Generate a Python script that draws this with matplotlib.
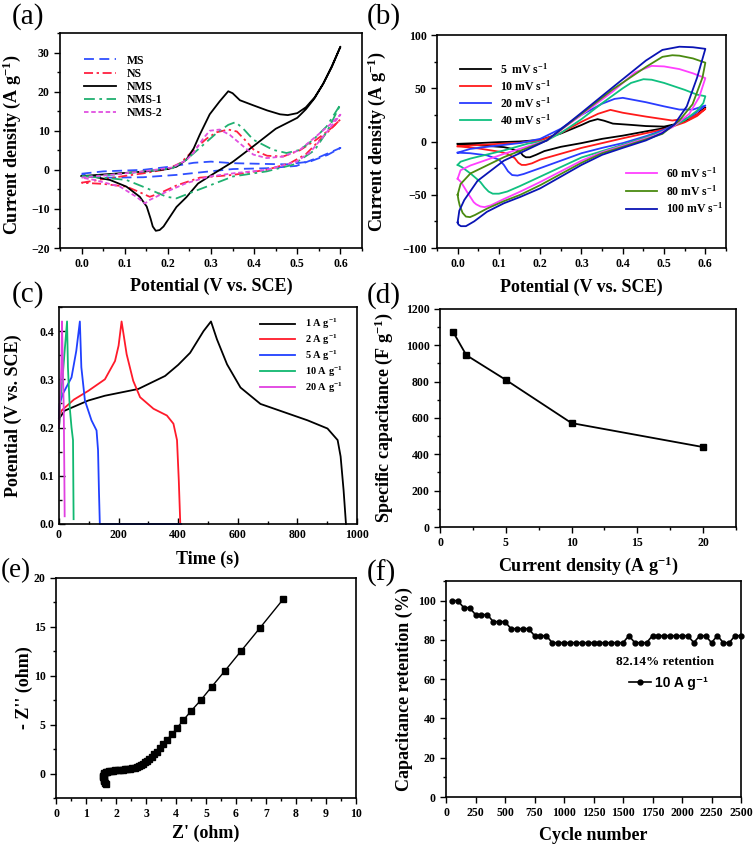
import matplotlib
matplotlib.use("Agg")
import matplotlib.pyplot as plt
from matplotlib.ticker import MultipleLocator
import numpy as np

plt.rcParams['font.family'] = ['Liberation Serif', 'DejaVu Serif']
plt.rcParams['font.weight'] = 'bold'
plt.rcParams['axes.labelweight'] = 'bold'
plt.rcParams['mathtext.fontset'] = 'custom'
plt.rcParams['mathtext.rm'] = 'Liberation Serif:bold'
plt.rcParams['mathtext.bf'] = 'Liberation Serif:bold'
plt.rcParams['mathtext.it'] = 'Liberation Serif:bold:italic'
plt.rcParams['mathtext.default'] = 'rm'

# ---------------- (a) CV of samples at one scan rate ----------------
a_labels = ["MS", "NS", "NMS", "NMS-1", "NMS-2"]
ms_fx = [0, 0.05, 0.143, 0.212, 0.26, 0.3, 0.35, 0.429, 0.475, 0.529, 0.57, 0.6]
ms_fy = [-1.0, -0.4, 0.0, 0.9, 1.8, 2.1, 1.7, 1.5, 1.4, 2.1, 3.8, 5.6]
ms_rx = [0.6, 0.552, 0.498, 0.429, 0.351, 0.297, 0.22, 0.143, 0.066, 0]
ms_ry = [5.6, 3.3, 1.0, 0.4, 0.2, -0.4, -1.3, -1.9, -2.0, -1.3]

ns_fx = [0, 0.066, 0.143, 0.2, 0.23, 0.259, 0.29, 0.313, 0.34, 0.36, 0.38, 0.4, 0.43, 0.467, 0.506, 0.544, 0.575, 0.6]
ns_fy = [-3.3, -2.1, -0.9, 0.2, 1.8, 5.0, 8.0, 9.6, 10.3, 9.8, 7.5, 5.0, 3.6, 3.4, 5.0, 7.7, 10.3, 12.9]
ns_rx = [0.6, 0.56, 0.52, 0.483, 0.429, 0.351, 0.274, 0.22, 0.181, 0.158, 0.13, 0.104, 0.05, 0]
ns_ry = [12.9, 8.5, 4.0, 1.7, 0.0, -1.3, -2.0, -4.0, -6.0, -6.9, -5.5, -4.3, -3.6, -3.3]

nms_fx = [0, 0.05, 0.1, 0.15, 0.2, 0.22, 0.243, 0.26, 0.274, 0.297, 0.32, 0.34, 0.35, 0.367, 0.398, 0.43, 0.46, 0.478, 0.5, 0.52, 0.54, 0.56, 0.58, 0.6]
nms_fy = [-1.6, -1.2, -0.8, -0.4, 0.2, 0.8, 2.6, 5.5, 9.0, 14.2, 17.5, 20.1, 19.6, 17.8, 16.5, 15.2, 14.2, 14.0, 14.5, 16.0, 18.5, 22.0, 26.5, 31.5]
nms_rx = [0.6, 0.58, 0.56, 0.54, 0.52, 0.5, 0.45, 0.4, 0.35, 0.3, 0.27, 0.243, 0.22, 0.205, 0.19, 0.181, 0.172, 0.165, 0.16, 0.151, 0.135, 0.104, 0.066, 0.03, 0]
nms_ry = [31.5, 26.3, 22.0, 18.3, 15.5, 13.3, 10.5, 6.2, 2.0, -1.4, -3.5, -7.0, -9.5, -12.0, -14.5, -15.4, -15.6, -14.5, -12.5, -9.4, -6.9, -4.3, -2.6, -1.8, -1.6]

nms1_fx = [0, 0.066, 0.143, 0.21, 0.243, 0.274, 0.313, 0.34, 0.357, 0.375, 0.398, 0.444, 0.475, 0.506, 0.537, 0.568, 0.6]
nms1_fy = [-1.7, -1.3, -0.4, 0.4, 2.6, 5.6, 9.4, 11.5, 12.2, 10.5, 7.7, 5.1, 4.3, 5.1, 7.7, 11.1, 16.7]
nms1_rx = [0.6, 0.57, 0.54, 0.49, 0.429, 0.351, 0.29, 0.259, 0.22, 0.197, 0.151, 0.104, 0.05, 0]
nms1_ry = [16.7, 10.0, 5.0, 1.3, -0.4, -1.7, -4.3, -5.6, -7.3, -6.9, -4.7, -2.6, -2.0, -1.7]

nms2_fx = [0, 0.066, 0.143, 0.21, 0.243, 0.259, 0.282, 0.297, 0.32, 0.344, 0.375, 0.398, 0.429, 0.467, 0.506, 0.544, 0.575, 0.6]
nms2_fy = [-2.0, -1.3, -0.4, 0.6, 2.5, 4.3, 8.0, 10.0, 10.3, 8.9, 6.0, 3.9, 3.0, 3.4, 5.1, 8.6, 11.5, 14.1]
nms2_rx = [0.6, 0.56, 0.53, 0.498, 0.429, 0.351, 0.297, 0.243, 0.197, 0.158, 0.147, 0.127, 0.089, 0.03, 0]
nms2_ry = [14.1, 8.5, 4.5, 2.1, 0.0, -0.9, -1.7, -3.4, -5.6, -7.7, -8.6, -6.9, -4.3, -2.6, -2.0]

# ---------------- (b) CV of NMS at scan rates ----------------
b_labels = ["5  mV s$^{-1}$", "10 mV s$^{-1}$", "20 mV s$^{-1}$", "40 mV s$^{-1}$",
            "60 mV s$^{-1}$", "80 mV s$^{-1}$", "100 mV s$^{-1}$"]
b5_fx = [0, 0.05, 0.1, 0.15, 0.2, 0.25, 0.3, 0.32, 0.339, 0.355, 0.376, 0.42, 0.456, 0.5, 0.53, 0.56, 0.58, 0.6]
b5_fy = [-2.2, -1.5, -0.6, 0.0, 1.5, 7.5, 15.5, 19.0, 21.0, 19.5, 16.8, 15.6, 14.5, 14.0, 16.5, 20.5, 25.5, 32.0]
b5_rx = [0.6, 0.58, 0.55, 0.5, 0.456, 0.4, 0.35, 0.3, 0.25, 0.21, 0.19, 0.175, 0.165, 0.158, 0.152, 0.13, 0.112, 0.05, 0]
b5_ry = [32.0, 25.0, 19.0, 12.5, 9.5, 5.5, 2.5, -1.5, -5.0, -9.0, -12.5, -14.8, -14.8, -13.0, -10.0, -6.8, -5.3, -3.5, -2.2]

b10_fx = [0, 0.1, 0.15, 0.2, 0.25, 0.3, 0.34, 0.37, 0.4, 0.456, 0.52, 0.56, 0.58, 0.6]
b10_fy = [-4.5, -2.2, -1.2, 1.0, 8.0, 18.5, 26.0, 29.7, 27.0, 23.4, 19.7, 22.0, 25.5, 30.6]
b10_rx = [0.6, 0.58, 0.55, 0.52, 0.5, 0.456, 0.4, 0.35, 0.3, 0.25, 0.2, 0.18, 0.165, 0.155, 0.147, 0.138, 0.12, 0.1, 0.05, 0]
b10_ry = [30.6, 24.0, 18.0, 14.0, 11.5, 7.8, 3.0, -1.5, -6.0, -11.5, -17.0, -20.5, -22.0, -22.0, -20.0, -15.5, -11.5, -9.5, -6.5, -4.5]

b20_fx = [0, 0.03, 0.071, 0.15, 0.2, 0.25, 0.3, 0.35, 0.38, 0.4, 0.456, 0.5, 0.537, 0.57, 0.6]
b20_fy = [-10.5, -7.0, -5.0, -1.5, 2.5, 12.0, 25.0, 35.5, 40.0, 41.0, 36.9, 33.0, 30.0, 30.0, 33.8]
b20_rx = [0.6, 0.57, 0.537, 0.5, 0.456, 0.4, 0.35, 0.3, 0.25, 0.2, 0.16, 0.145, 0.132, 0.122, 0.112, 0.1, 0.071, 0.03, 0]
b20_ry = [33.8, 25.0, 18.0, 11.0, 5.0, -1.5, -6.0, -11.0, -18.0, -25.0, -30.5, -32.0, -31.5, -28.0, -22.0, -17.0, -13.0, -11.0, -10.5]

b40_fx = [0, 0.007, 0.031, 0.112, 0.17, 0.216, 0.25, 0.3, 0.35, 0.4, 0.42, 0.45, 0.47, 0.5, 0.55, 0.58, 0.6]
b40_fy = [-22, -19, -16, -8.4, -2, 1, 8, 21, 36, 50, 55, 58.5, 58, 55, 48.5, 44, 42.5]
b40_rx = [0.6, 0.595, 0.58, 0.55, 0.5, 0.456, 0.4, 0.35, 0.3, 0.25, 0.2, 0.15, 0.12, 0.1, 0.085, 0.075, 0.065, 0.055, 0.031, 0.01, 0]
b40_ry = [42.5, 36, 29, 20, 10, 4, -3, -9, -15, -24, -33, -42, -47, -49, -49, -47, -43, -38, -30, -24, -22]

b60_fx = [0, 0.007, 0.031, 0.112, 0.216, 0.3, 0.376, 0.43, 0.47, 0.5, 0.537, 0.57, 0.6]
b60_fy = [-35, -27, -22.5, -11.6, 1, 25, 47, 65, 71, 70.5, 68, 64, 59.5]
b60_rx = [0.6, 0.585, 0.561, 0.52, 0.48, 0.456, 0.4, 0.35, 0.3, 0.25, 0.2, 0.152, 0.112, 0.08, 0.065, 0.055, 0.045, 0.039, 0.023, 0.008, 0]
b60_ry = [59.5, 41.6, 26, 13.4, 6, 3, -4, -10, -18, -28, -38, -47, -54, -60, -61.6, -61, -59, -57, -47.5, -38, -35]

b80_fx = [0, 0.007, 0.031, 0.112, 0.216, 0.3, 0.376, 0.456, 0.496, 0.52, 0.537, 0.57, 0.6]
b80_fy = [-50, -40, -30, -14.7, 1, 26, 49, 70, 79.5, 81, 80.6, 78, 74]
b80_rx = [0.6, 0.593, 0.569, 0.537, 0.496, 0.456, 0.4, 0.35, 0.3, 0.25, 0.2, 0.152, 0.112, 0.071, 0.042, 0.03, 0.02, 0.012, 0.005, 0.002, 0]
b80_ry = [74, 60, 35, 19.7, 7.2, 2, -5, -11, -20, -30.5, -41, -50, -56, -63, -69, -71, -70.5, -67, -60, -55, -50]

b100_fx = [0, 0.004, 0.016, 0.048, 0.112, 0.216, 0.3, 0.376, 0.456, 0.496, 0.537, 0.57, 0.6]
b100_fy = [-76, -65, -55, -37, -18, 1, 27, 51, 76, 86, 89, 88.5, 87]
b100_rx = [0.6, 0.58, 0.555, 0.525, 0.496, 0.456, 0.4, 0.35, 0.3, 0.25, 0.2, 0.152, 0.112, 0.071, 0.04, 0.02, 0.008, 0.002, 0]
b100_ry = [87, 60, 33, 16, 8, 1, -6, -12.5, -22, -33, -44, -52, -58, -66, -75, -79.5, -79.5, -78, -76]

# ---------------- (c) GCD curves ----------------
c_labels = ["1 A g$^{-1}$", "2 A g$^{-1}$", "5 A g$^{-1}$", "10 A g$^{-1}$", "20 A g$^{-1}$"]
c1_t = [0, 2, 19, 98, 154, 266, 356, 400, 440, 485, 510, 530, 564, 609, 676, 755, 834, 901, 935, 945, 955, 963]
c1_v = [0.20, 0.22, 0.235, 0.256, 0.266, 0.28, 0.307, 0.33, 0.355, 0.40, 0.42, 0.383, 0.331, 0.283, 0.249, 0.232, 0.215, 0.198, 0.174, 0.14, 0.07, 0.0]
c2_t = [0, 8, 50, 98, 154, 188, 200, 210, 215, 227, 249, 272, 317, 362, 384, 396, 402, 407]
c2_v = [0.22, 0.235, 0.258, 0.276, 0.30, 0.338, 0.37, 0.42, 0.40, 0.352, 0.297, 0.263, 0.239, 0.225, 0.208, 0.174, 0.09, 0.0]
c5_t = [0, 2, 13, 42, 58, 70, 75, 87, 109, 126, 131, 134, 137, 410]
c5_v = [0.22, 0.249, 0.27, 0.304, 0.359, 0.42, 0.325, 0.256, 0.215, 0.194, 0.153, 0.07, 0.0, 0.0]
c10_t = [0, 5, 13, 19, 27, 30, 36, 42, 47, 48, 49]
c10_v = [0.2, 0.26, 0.311, 0.359, 0.42, 0.325, 0.242, 0.2, 0.174, 0.09, 0.01]
c20_t = [0, 2, 8, 10, 13, 16, 18, 19]
c20_v = [0.2, 0.235, 0.325, 0.42, 0.325, 0.235, 0.1, 0.016]

# ---------------- (d) rate capability ----------------
d_current = [1, 2, 5, 10, 20]
d_capacitance = [1073, 946, 810, 572, 440]

# ---------------- (e) Nyquist ----------------
e_zre = [1.65, 1.63, 1.61, 1.6, 1.59, 1.58, 1.58, 1.59, 1.61, 1.65, 1.7, 1.76, 1.83, 1.9, 1.98, 2.06,
         2.14, 2.22, 2.3, 2.38, 2.46, 2.54, 2.62, 2.69, 2.76, 2.83, 2.9, 2.97, 3.04, 3.11, 3.19, 3.27,
         3.36, 3.46, 3.58, 3.69, 3.86, 4.04, 4.24, 4.5, 4.82, 5.19, 5.63, 6.16, 6.8, 7.58]
e_zim = [-1.1, -0.95, -0.8, -0.65, -0.5, -0.35, -0.2, -0.05, 0.05, 0.12, 0.18, 0.22, 0.26, 0.29, 0.32, 0.34,
         0.37, 0.39, 0.42, 0.45, 0.49, 0.54, 0.6, 0.68, 0.77, 0.88, 1.0, 1.14, 1.3, 1.48, 1.7, 1.95,
         2.25, 2.6, 3.0, 3.44, 4.01, 4.69, 5.44, 6.39, 7.48, 8.88, 10.5, 12.5, 14.9, 17.86]

# ---------------- (f) cycling ----------------
f_cycles = [50, 100, 150, 200, 250, 300, 350, 400, 450, 500, 550, 600, 650, 700, 750, 800, 850, 900,
            950, 1000, 1050, 1100, 1150, 1200, 1250, 1300, 1350, 1400, 1450, 1500, 1550, 1600, 1650,
            1700, 1750, 1800, 1850, 1900, 1950, 2000, 2050, 2100, 2150, 2200, 2250, 2300, 2350, 2400,
            2450, 2500]
f_retention = [100, 100, 96.43, 96.43, 92.86, 92.86, 92.86, 89.29, 89.29, 89.29, 85.71, 85.71, 85.71,
               85.71, 82.14, 82.14, 82.14, 78.57, 78.57, 78.57, 78.57, 78.57, 78.57, 78.57, 78.57, 78.57,
               78.57, 78.57, 78.57, 78.57, 82.14, 78.57, 78.57, 78.57, 82.14, 82.14, 82.14, 82.14, 82.14,
               82.14, 82.14, 78.57, 82.14, 82.14, 78.57, 82.14, 78.57, 78.57, 82.14, 82.14]

W, H = 756, 849
fig = plt.figure(figsize=(W / 100, H / 100), dpi=100)


def add_ax(l, r, t, b):
    return fig.add_axes([l / W, 1 - b / H, (r - l) / W, (b - t) / H])


def style(ax, direction='out'):
    for s in ax.spines.values():
        s.set_linewidth(1.2)
    ax.tick_params(which='both', direction=direction, top=False, right=False, labelsize=8.5, width=1.0)
    ax.tick_params(which='major', length=4)
    ax.tick_params(which='minor', length=2.5)


LBL = 13

# (a)
ax = add_ax(60, 362, 33, 248)
style(ax)
curves_a = [(ms_fx + ms_rx, ms_fy + ms_ry, '#2f4fff', (0, (5.5, 3))),
            (ns_fx + ns_rx, ns_fy + ns_ry, '#ff2040', (0, (5, 2, 1.3, 2))),
            (nms_fx + nms_rx, nms_fy + nms_ry, 'black', '-'),
            (nms1_fx + nms1_rx, nms1_fy + nms1_ry, '#20b070', (0, (6, 2.5, 1.5, 2.5))),
            (nms2_fx + nms2_rx, nms2_fy + nms2_ry, '#e050e0', (0, (2.5, 1.5)))]
for (x, y, c, ls), lab in zip(curves_a, a_labels):
    ax.plot(x, y, color=c, ls=ls, lw=1.3, label=lab)
ax.set_xlim(-0.05, 0.65)
ax.set_ylim(-20, 35)
ax.xaxis.set_minor_locator(MultipleLocator(0.05))
ax.yaxis.set_minor_locator(MultipleLocator(5))
ax.set_xticks([0, 0.1, 0.2, 0.3, 0.4, 0.5, 0.6])
ax.set_xticklabels(['0.0', '0.1', '0.2', '0.3', '0.4', '0.5', '0.6'])
ax.set_yticks([-20, -10, 0, 10, 20, 30])
ax.set_xlabel('Potential (V vs. SCE)', fontsize=LBL)
ax.set_ylabel('Current density (A g$^{-1}$)', fontsize=LBL)
ax.xaxis.set_label_coords(0.5, -0.14)
ax.yaxis.set_label_coords(-0.123, 0.48)
ax.legend(loc='upper left', bbox_to_anchor=(0.08, 0.9), frameon=False, fontsize=8.5,
          handlelength=2.7, handletextpad=0.9, labelspacing=0.1, borderpad=0, borderaxespad=0)

# (b)
ax = add_ax(437, 726, 35, 248)
style(ax)
b_colors = ['black', '#ff1a1a', '#2a3cff', '#10c080', '#ff40ff', '#4a8a10', '#0a14b4']
b_data = [(b5_fx + b5_rx, b5_fy + b5_ry), (b10_fx + b10_rx, b10_fy + b10_ry),
          (b20_fx + b20_rx, b20_fy + b20_ry), (b40_fx + b40_rx, b40_fy + b40_ry),
          (b60_fx + b60_rx, b60_fy + b60_ry), (b80_fx + b80_rx, b80_fy + b80_ry),
          (b100_fx + b100_rx, b100_fy + b100_ry)]
lines_b = []
for (x, y), c, lab in zip(b_data, b_colors, b_labels):
    ln, = ax.plot(x, y, color=c, lw=1.3, label=lab)
    lines_b.append(ln)
ax.set_xlim(-0.05, 0.65)
ax.set_ylim(-100, 100)
ax.set_xticks([0, 0.1, 0.2, 0.3, 0.4, 0.5, 0.6])
ax.set_xticklabels(['0.0', '0.1', '0.2', '0.3', '0.4', '0.5', '0.6'])
ax.xaxis.set_minor_locator(MultipleLocator(0.05))
ax.set_yticks([-100, -50, 0, 50, 100])
ax.yaxis.set_minor_locator(MultipleLocator(25))
ax.set_xlabel('Potential (V vs. SCE)', fontsize=LBL)
ax.set_ylabel('Current density (A g$^{-1}$)', fontsize=LBL)
ax.xaxis.set_label_coords(0.5, -0.146)
ax.yaxis.set_label_coords(-0.17, 0.5)
leg1 = ax.legend(handles=lines_b[:4], loc='upper left', bbox_to_anchor=(0.08, 0.875), frameon=False,
                 fontsize=8.5, handlelength=2.6, handletextpad=0.8, labelspacing=0.2, borderpad=0,
                 borderaxespad=0)
ax.add_artist(leg1)
ax.legend(handles=lines_b[4:], loc='upper left', bbox_to_anchor=(0.655, 0.385), frameon=False,
          fontsize=8.5, handlelength=2.6, handletextpad=0.8, labelspacing=0.25, borderpad=0,
          borderaxespad=0)

# (c)
ax = add_ax(59, 357, 307, 524)
style(ax, 'in')
c_colors = ['black', '#ff1a2a', '#2040ff', '#10b870', '#e040e0']
c_data = [(c1_t, c1_v), (c2_t, c2_v), (c5_t, c5_v), (c10_t, c10_v), (c20_t, c20_v)]
for (t, v), c, lab in zip(c_data, c_colors, c_labels):
    ax.plot(t, v, color=c, lw=1.3, label=lab, clip_on=False)
ax.set_xlim(0, 1000)
ax.set_ylim(0, 0.45)
ax.set_xticks([0, 200, 400, 600, 800, 1000])
ax.xaxis.set_minor_locator(MultipleLocator(100))
ax.set_yticks([0, 0.1, 0.2, 0.3, 0.4])
ax.set_yticklabels(['0.0', '0.1', '0.2', '0.3', '0.4'])
ax.yaxis.set_minor_locator(MultipleLocator(0.05))
ax.set_xlabel('Time (s)', fontsize=LBL)
ax.set_ylabel('Potential (V vs. SCE)', fontsize=LBL)
ax.xaxis.set_label_coords(0.5, -0.125)
ax.yaxis.set_label_coords(-0.124, 0.5)
ax.legend(loc='upper left', bbox_to_anchor=(0.674, 0.955), frameon=False, fontsize=7.5,
          handlelength=3.4, handletextpad=0.9, labelspacing=0.15, borderpad=0, borderaxespad=0)

# (d)
ax = add_ax(440, 736, 309, 527)
style(ax)
ax.plot(d_current, d_capacitance, color='black', lw=1.3, marker='s', ms=4.5)
ax.set_xlim(0, 22.5)
ax.set_ylim(0, 1200)
ax.set_xticks([0, 5, 10, 15, 20])
ax.xaxis.set_minor_locator(MultipleLocator(2.5))
ax.set_yticks([0, 200, 400, 600, 800, 1000, 1200])
ax.yaxis.set_minor_locator(MultipleLocator(100))
ax.set_xlabel('Current density (A g$^{-1}$)', fontsize=LBL)
ax.set_ylabel('Specific capacitance (F g$^{-1}$)', fontsize=LBL)
ax.xaxis.set_label_coords(0.5, -0.128)
ax.yaxis.set_label_coords(-0.152, 0.5)

# (e)
ax = add_ax(56, 356, 578, 798)
style(ax)
ax.plot(e_zre, e_zim, color='black', lw=1.0, marker='s', ms=4)
ax.set_xlim(0, 10)
ax.set_ylim(-2.5, 20)
ax.set_xticks(range(0, 11))
ax.xaxis.set_minor_locator(MultipleLocator(0.5))
ax.set_yticks([0, 5, 10, 15, 20])
ax.yaxis.set_minor_locator(MultipleLocator(2.5))
ax.set_xlabel("Z' (ohm)", fontsize=LBL)
ax.set_ylabel("- Z'' (ohm)", fontsize=LBL)
ax.xaxis.set_label_coords(0.5, -0.123)
ax.yaxis.set_label_coords(-0.077, 0.5)

# (f)
ax = add_ax(446, 741, 581, 797)
style(ax)
ax.plot(f_cycles, f_retention, color='black', lw=1.2, marker='o', ms=3.5,
        label='10 A g\u207b\u00b9', clip_on=False)
ax.set_xlim(0, 2500)
ax.set_ylim(0, 110)
ax.set_xticks(range(0, 2501, 250))
ax.set_yticks([0, 20, 40, 60, 80, 100])
ax.yaxis.set_minor_locator(MultipleLocator(10))
ax.set_xlabel('Cycle number', fontsize=LBL)
ax.set_ylabel('Capacitance retention (%)', fontsize=LBL)
ax.xaxis.set_label_coords(0.5, -0.139)
ax.yaxis.set_label_coords(-0.112, 0.5)
ax.text(0.742, 0.625, '82.14% retention', transform=ax.transAxes, ha='center', va='center',
        fontsize=9.5, fontweight='bold')
ax.legend(loc='center left', bbox_to_anchor=(0.62, 0.528), frameon=False,
          prop={'family': ['Liberation Sans', 'DejaVu Sans'], 'weight': 'bold', 'size': 10},
          handlelength=1.6, handletextpad=0.3, borderpad=0, borderaxespad=0, numpoints=1)

# panel labels
for txt, x, y, fs in [('(a)', 12, 17, 21), ('(b)', 367, 17, 21), ('(c)', 12, 295, 21),
                      ('(d)', 367, 296, 21), ('(e)', 1, 571, 19.5), ('(f)', 367, 573, 21)]:
    fig.text(x / W, 1 - y / H, txt, fontsize=fs, fontweight='normal', ha='left', va='center')

fig.savefig('out.png', dpi=100)
